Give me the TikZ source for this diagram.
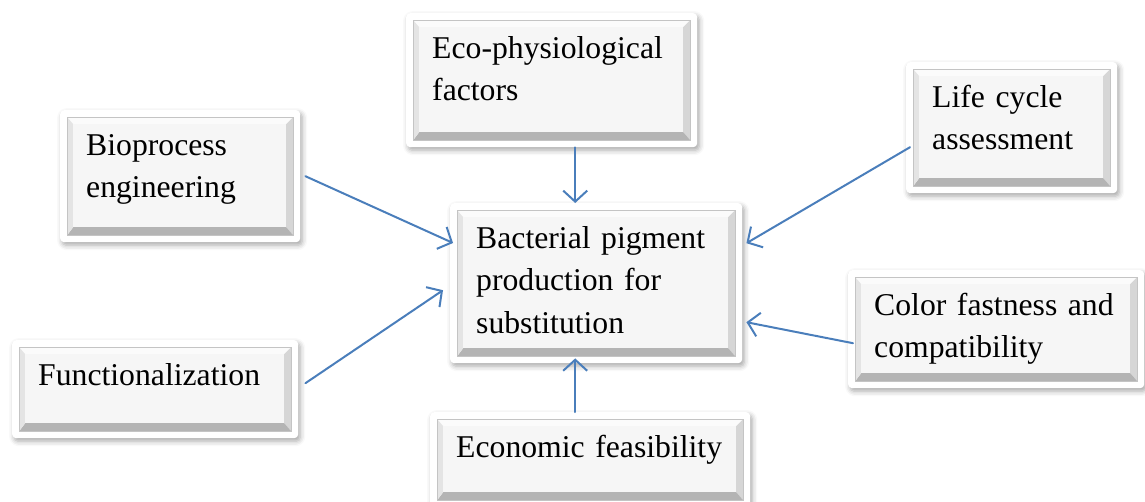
\documentclass[tikz,border=0pt]{standalone}
\usepackage{fontspec}
\setmainfont{Liberation Serif}
\usepackage{xcolor}
\usepackage{tikz}
\usetikzlibrary{arrows.meta}
\usetikzlibrary{shadows.blur}

\definecolor{arrowblue}{HTML}{4A7EBB}
\definecolor{faceg}{HTML}{F6F6F6}
\definecolor{bevtop}{HTML}{FBFBFB}
\definecolor{bevleft}{HTML}{E4E4E4}
\definecolor{bevright}{HTML}{D6D6D6}
\definecolor{bevbot}{HTML}{B4B4B4}
\definecolor{bevline}{HTML}{C4C4C4}

\begin{document}
\begin{tikzpicture}[x=1pt,y=-1pt,
		factor/.style={anchor=north west, fill=white, rounded corners=4pt,
			blur shadow={shadow xshift=2pt, shadow yshift=-3pt, shadow blur radius=5pt, shadow opacity=35},
			inner xsep=26pt, inner ysep=0pt, text width=#1-52pt, minimum width=#1,
			text height=45pt, align=left,
			font=\fontsize{31.7}{42.5}\selectfont,
			path picture={
				\begin{scope}[sharp corners]
				\coordinate (o1) at ([xshift=7pt,yshift=-7pt]path picture bounding box.north west);
				\coordinate (o2) at ([xshift=-7pt,yshift=-7pt]path picture bounding box.north east);
				\coordinate (o3) at ([xshift=-7pt,yshift=7pt]path picture bounding box.south east);
				\coordinate (o4) at ([xshift=7pt,yshift=7pt]path picture bounding box.south west);
				\coordinate (i1) at ([xshift=13pt,yshift=-14pt]path picture bounding box.north west);
				\coordinate (i2) at ([xshift=-14pt,yshift=-14pt]path picture bounding box.north east);
				\coordinate (i3) at ([xshift=-14pt,yshift=15pt]path picture bounding box.south east);
				\coordinate (i4) at ([xshift=13pt,yshift=15pt]path picture bounding box.south west);
				\fill[bevtop] (o1) -- (o2) -- (i2) -- (i1) -- cycle;
				\fill[bevright] (o2) -- (o3) -- (i3) -- (i2) -- cycle;
				\fill[bevbot] (o3) -- (o4) -- (i4) -- (i3) -- cycle;
				\fill[bevleft] (o4) -- (o1) -- (i1) -- (i4) -- cycle;
				\fill[faceg] (i1) rectangle (i3);
				\draw[bevline, line width=0.8pt] (o1) rectangle (o3);
				\end{scope}
			}},
		link/.style={draw=arrowblue, line width=2pt, line cap=round,
			-{Straight Barb[length=11pt,width=24pt,line width=2pt]}}
		]
		\useasboundingbox (0,0) rectangle (1145,501);
		
		\node[factor=240pt, text depth=87pt] (bio) at (60,110) {Bioprocess\\engineering};
		\node[factor=291pt, text depth=89pt] (eco) at (406,13) {Eco-physiological\\factors};
		\node[factor=211pt, text depth=86pt] (life) at (906,62) {Life cycle\\assessment};
		\node[factor=292pt, text depth=115pt] (pigment) at (450,203) {Bacterial pigment\\production for\\substitution};
		\node[factor=286pt, text depth=53pt] (func) at (12,340) {Functionalization};
		\node[factor=296pt, text depth=73pt] (color) at (848,270) {Color fastness and\\compatibility};
		\node[factor=320pt, text depth=50pt] (econ) at (430,412) {Economic feasibility};
		
		% connectors into the central box
		\draw[link] ([xshift=23.5pt]eco.south) -- ([xshift=-21pt]pigment.north);
		\draw[link] ([xshift=5pt]bio.east) -- ([shift={(3pt,-40pt)}]pigment.north west);
		\draw[link] ([shift={(7pt,6pt)}]func.east) -- ([shift={(-7pt,-7pt)}]pigment.west);
		\draw[link] ([shift={(4pt,-19.5pt)}]life.west) -- ([shift={(4pt,40pt)}]pigment.east);
		\draw[link] ([shift={(5pt,-14pt)}]color.west) -- ([shift={(4pt,-39pt)}]pigment.east);
		\draw[link] ([xshift=-15pt]econ.north) -- ([shift={(-21pt,5pt)}]pigment.south);
\end{tikzpicture}
\end{document}
